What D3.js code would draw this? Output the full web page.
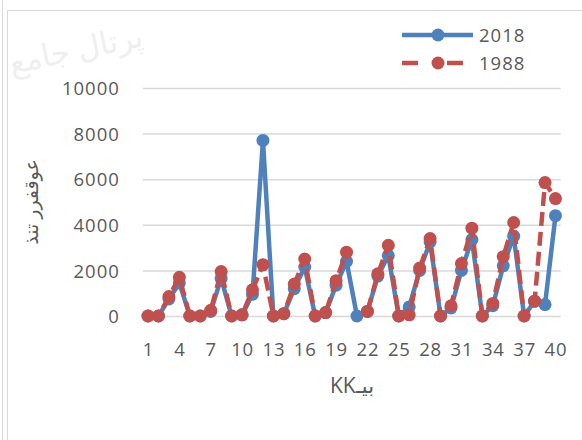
<!DOCTYPE html>
<html>
<head>
<meta charset="utf-8">
<script src="https://cdn.jsdelivr.net/npm/d3@7"></script>
<style>
  html, body { margin: 0; padding: 0; background: #ffffff; }
  svg { display: block; }
  text { font-family: "Open Sans", "DejaVu Sans", sans-serif; }
</style>
</head>
<body>
<svg id="chart" width="582" height="440"></svg>
<script>
// Categories 1..40
const categories = d3.range(1, 41);

// Series values (null = missing point)
const values2018 = [
  0, 0, 750, 1450, 0, 0, 200, 1650, 0, 50,
  950, 7700, 0, 100, 1200, 2150, 0, 150, 1350, 2400,
  0, 200, 1750, 2650, 0, 400, 2000, 3250, 0, 350,
  2000, 3350, 0, 450, 2200, 3500, 0, 650, 500, 4400
];
const values1988 = [
  0, 0, 850, 1700, 0, 0, 250, 1950, 0, 50,
  1150, 2250, 0, 100, 1400, 2500, 0, 150, 1550, 2800,
  null, 200, 1850, 3100, 0, 50, 2100, 3400, 0, 450,
  2300, 3850, 0, 550, 2600, 4100, 0, 650, 5850, 5150
];

const seriesNames = ["2018", "1988"];
const seriesColors = ["#4F81BD", "#C0504D"];

// Axis tick labels
const yTicks = [0, 2000, 4000, 6000, 8000, 10000];
const xTicks = [1, 4, 7, 10, 13, 16, 19, 22, 25, 28, 31, 34, 37, 40];

const xTitle = "KKبيـ";
const yTitle = "عوقفرر تنذ";

const svg = d3.select("#chart");
const plot = { left: 142.8, right: 560.7, top: 88, bottom: 316 };
const textColor = "#595959";
const fontSize = 18.5;

// faint background watermark
svg.append("text")
  .attr("transform", "translate(78,60) rotate(-12)")
  .attr("text-anchor", "middle")
  .attr("font-family", "DejaVu Sans, sans-serif")
  .attr("font-size", 31)
  .attr("fill", "#efefef")
  .text("پرتال جامع");

// outer frame lines
svg.append("line").attr("x1", 2.5).attr("x2", 2.5).attr("y1", 0).attr("y2", 440)
  .attr("stroke", "#d9d9d9").attr("stroke-width", 1);
svg.append("path").attr("d", "M7.5,440 V10.5 H582")
  .attr("fill", "none").attr("stroke", "#d9d9d9").attr("stroke-width", 1);

const x = d3.scalePoint().domain(categories).range([plot.left, plot.right]).padding(0.5);
const y = d3.scaleLinear().domain([0, 10000]).range([plot.bottom, plot.top]);

// horizontal gridlines
svg.append("g")
  .attr("transform", `translate(${plot.left},0)`)
  .call(d3.axisLeft(y).tickValues(yTicks).tickSize(-(plot.right - plot.left)).tickFormat(""))
  .call(g => g.select(".domain").remove())
  .call(g => g.selectAll("line").attr("stroke", "#d9d9d9").attr("stroke-width", 1.5));

// y axis labels
svg.append("g")
  .attr("transform", `translate(${plot.left},0)`)
  .call(d3.axisLeft(y).tickValues(yTicks).tickSize(0).tickPadding(23).tickFormat(d3.format("d")))
  .call(g => g.select(".domain").remove())
  .call(g => g.selectAll("text")
    .attr("fill", textColor)
    .attr("font-size", fontSize)
    .attr("font-family", "Open Sans, sans-serif")
    .attr("letter-spacing", 1)
    .attr("dy", "0.36em"));

// x axis labels
svg.append("g")
  .attr("transform", `translate(0,${plot.bottom})`)
  .call(d3.axisBottom(x).tickValues(xTicks).tickSize(0).tickPadding(26.5))
  .call(g => g.select(".domain").remove())
  .call(g => g.selectAll("text")
    .attr("fill", textColor)
    .attr("font-size", fontSize)
    .attr("font-family", "Open Sans, sans-serif")
    .attr("letter-spacing", 0.8));

// axis titles
svg.append("text")
  .attr("x", 352).attr("y", 393)
  .attr("text-anchor", "middle")
  .attr("fill", textColor)
  .attr("font-size", 21)
  .attr("font-family", "Liberation Sans, DejaVu Sans, sans-serif")
  .text(xTitle);

svg.append("text")
  .attr("transform", `translate(38,${(plot.top + plot.bottom) / 2}) rotate(-90)`)
  .attr("text-anchor", "middle")
  .attr("fill", textColor)
  .attr("font-size", 19)
  .attr("font-family", "DejaVu Sans, sans-serif")
  .text(yTitle);

// series
const allSeries = [values2018, values1988];
const dashes = [null, "14,6"];

allSeries.forEach((vals, si) => {
  const pts = categories.map((c, i) => ({ c, v: vals[i] }));
  const line = d3.line()
    .defined(d => d.v != null)
    .x(d => x(d.c))
    .y(d => y(d.v));
  const g = svg.append("g");
  g.append("path")
    .datum(pts)
    .attr("d", line)
    .attr("fill", "none")
    .attr("stroke", seriesColors[si])
    .attr("stroke-width", 4.5)
    .attr("stroke-linejoin", "round")
    .attr("stroke-dasharray", dashes[si]);
  g.selectAll("circle")
    .data(pts.filter(d => d.v != null))
    .join("circle")
    .attr("cx", d => x(d.c))
    .attr("cy", d => y(d.v))
    .attr("r", 6.5)
    .attr("fill", seriesColors[si]);
});

// legend
const legendY = [35, 63];
const legendDash = [null, "16,29"];
const legendEnd = [473, 463];
seriesNames.forEach((name, i) => {
  const g = svg.append("g");
  g.append("line")
    .attr("x1", 402).attr("x2", legendEnd[i])
    .attr("y1", legendY[i]).attr("y2", legendY[i])
    .attr("stroke", seriesColors[i])
    .attr("stroke-width", 4.5)
    .attr("stroke-dasharray", legendDash[i]);
  g.append("circle")
    .attr("cx", 438).attr("cy", legendY[i]).attr("r", 6.5)
    .attr("fill", seriesColors[i]);
  g.append("text")
    .attr("x", 479).attr("y", legendY[i])
    .attr("dy", "0.36em")
    .attr("fill", textColor)
    .attr("font-size", fontSize)
    .attr("letter-spacing", 1)
    .text(name);
});
</script>
</body>
</html>
